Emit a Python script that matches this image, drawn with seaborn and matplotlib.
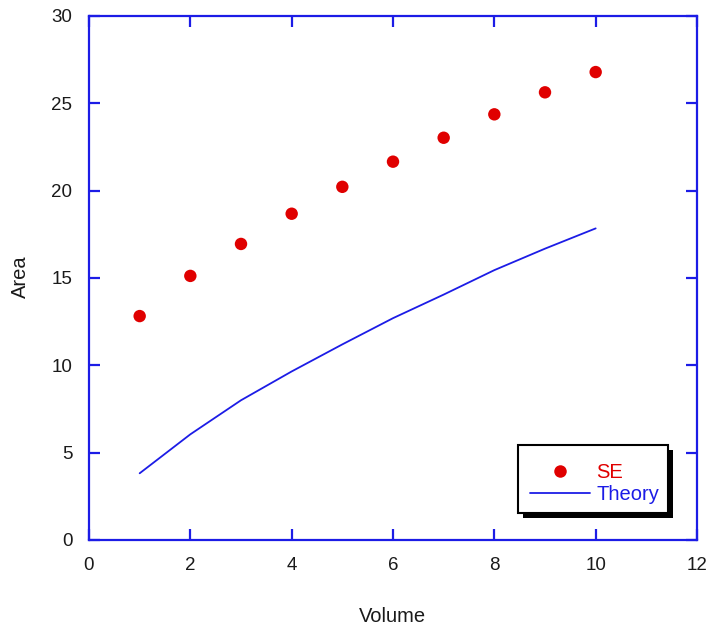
import matplotlib
matplotlib.use("Agg")
import matplotlib.pyplot as plt
import seaborn as sns
import pandas as pd
from matplotlib.patches import Rectangle
from matplotlib.lines import Line2D

volume = [1, 2, 3, 4, 5, 6, 7, 8, 9, 10]
se_area = [12.82, 15.12, 16.95, 18.68, 20.22, 21.66, 23.03, 24.37, 25.63, 26.79]
theory_area = [3.82, 6.05, 8.0, 9.65, 11.2, 12.7, 14.05, 15.45, 16.68, 17.84]
x_ticks = [0, 2, 4, 6, 8, 10, 12]
y_ticks = [0, 5, 10, 15, 20, 25, 30]

BLUE = "#1c1ce6"
RED = "#e00000"

sns.set_style("white")
plt.rcParams["font.family"] = ["Liberation Sans", "DejaVu Sans"]

df_se = pd.DataFrame({"Volume": volume, "Area": se_area})
df_th = pd.DataFrame({"Volume": volume, "Area": theory_area})

fig = plt.figure(figsize=(7.12, 6.3), dpi=100)
ax = fig.add_axes([89 / 712, 1 - 540 / 630, (697 - 89) / 712, (540 - 16) / 630])

sns.lineplot(data=df_th, x="Volume", y="Area", ax=ax, color=BLUE, linewidth=1.3, label="Theory")
sns.scatterplot(data=df_se, x="Volume", y="Area", ax=ax, color=RED, s=80, edgecolor="none", label="SE")

ax.set_xlim(0, 12)
ax.set_ylim(0, 30)
ax.set_xticks(x_ticks)
ax.set_yticks(y_ticks)
ax.set_xticklabels([str(t) for t in x_ticks])
ax.set_yticklabels([str(t) for t in y_ticks])

for s in ax.spines.values():
    s.set_visible(True)
    s.set_color(BLUE)
    s.set_linewidth(1.6)

ax.tick_params(axis="both", which="major", direction="in", length=8, width=1.6,
               color=BLUE, labelsize=13.5, labelcolor="#1a1a1a",
               top=True, right=True, bottom=True, left=True)
ax.tick_params(axis="x", pad=12)
ax.tick_params(axis="y", pad=12)

ax.set_xlabel("")
ax.set_ylabel("")
fig.text(392 / 712, 1 - 617 / 630, "Volume", ha="center", va="center", fontsize=14.5, color="#1a1a1a")
fig.text(20 / 712, 1 - 277 / 630, "Area", ha="center", va="center", rotation=90, fontsize=14.5, color="#1a1a1a")

handles = [
    Line2D([], [], marker="o", linestyle="none", color=RED, markersize=9, markeredgewidth=0),
    Line2D([], [], color=BLUE, linewidth=1.3),
]
leg = ax.legend(handles, ["SE", "Theory"], loc="lower right",
                bbox_to_anchor=((668 - 89) / 608, (540 - 513) / 524),
                frameon=False, fontsize=14.5,
                handlelength=3.0, handletextpad=0.3, borderpad=0.45,
                labelspacing=0.15, borderaxespad=0.0)
for txt, c in zip(leg.get_texts(), [RED, BLUE]):
    txt.set_color(c)
leg.set_zorder(11)

fig.canvas.draw()
bb = leg.get_window_extent()
inv = fig.transFigure.inverted()
# frame around legend contents (extra room at top and left)
fx0, fy0 = bb.x0 - 3, bb.y0
fx1, fy1 = bb.x1, bb.y1 + 9
(a0, b0) = inv.transform((fx0 + 5, fy0 - 5))
(a1, b1) = inv.transform((fx1 + 5, fy1 - 5))
shadow = Rectangle((a0, b0), a1 - a0, b1 - b0, transform=fig.transFigure,
                   facecolor="black", edgecolor="none", zorder=9)
shadow.set_clip_on(False)
ax.add_artist(shadow)
(c0, d0) = inv.transform((fx0, fy0))
(c1, d1) = inv.transform((fx1, fy1))
box = Rectangle((c0, d0), c1 - c0, d1 - d0, transform=fig.transFigure,
                facecolor="white", edgecolor="black", linewidth=1.5, zorder=10)
box.set_clip_on(False)
ax.add_artist(box)

fig.savefig("out.png", dpi=100)
